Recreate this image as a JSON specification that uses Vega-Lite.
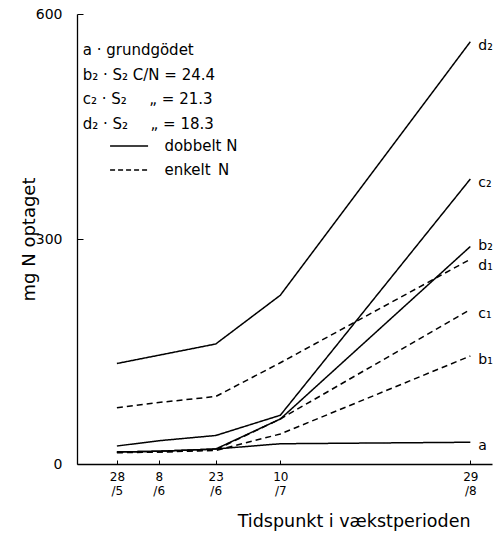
{
  "$schema": "https://vega.github.io/schema/vega-lite/v6.json",
  "width": 415,
  "height": 450,
  "autosize": {"type": "none"},
  "padding": {"left": 77, "top": 14, "right": 2, "bottom": 75},
  "background": "white",
  "config": {
    "view": {"stroke": null},
    "font": "DejaVu Sans",
    "axis": {
      "grid": false,
      "domainColor": "black",
      "domainWidth": 1.3,
      "tickColor": "black",
      "labelColor": "black",
      "titleColor": "black",
      "labelFont": "DejaVu Sans",
      "titleFont": "DejaVu Sans",
      "titleFontWeight": "normal"
    },
    "text": {"font": "DejaVu Sans", "color": "black"}
  },
  "data": {
    "values": [
      {"serie": "a", "navn": "a", "N": "grundgødet", "dag": 0, "mgN": 16},
      {"serie": "a", "navn": "a", "N": "grundgødet", "dag": 11, "mgN": 17},
      {"serie": "a", "navn": "a", "N": "grundgødet", "dag": 26, "mgN": 20},
      {"serie": "a", "navn": "a", "N": "grundgødet", "dag": 43, "mgN": 27},
      {"serie": "a", "navn": "a", "N": "grundgødet", "dag": 93, "mgN": 29},
      {"serie": "b2", "navn": "b₂", "N": "dobbelt N", "dag": 0, "mgN": 16},
      {"serie": "b2", "navn": "b₂", "N": "dobbelt N", "dag": 11, "mgN": 17},
      {"serie": "b2", "navn": "b₂", "N": "dobbelt N", "dag": 26, "mgN": 20},
      {"serie": "b2", "navn": "b₂", "N": "dobbelt N", "dag": 43, "mgN": 60},
      {"serie": "b2", "navn": "b₂", "N": "dobbelt N", "dag": 93, "mgN": 290},
      {"serie": "c2", "navn": "c₂", "N": "dobbelt N", "dag": 0, "mgN": 24},
      {"serie": "c2", "navn": "c₂", "N": "dobbelt N", "dag": 11, "mgN": 31},
      {"serie": "c2", "navn": "c₂", "N": "dobbelt N", "dag": 26, "mgN": 38},
      {"serie": "c2", "navn": "c₂", "N": "dobbelt N", "dag": 43, "mgN": 65},
      {"serie": "c2", "navn": "c₂", "N": "dobbelt N", "dag": 93, "mgN": 380},
      {"serie": "d2", "navn": "d₂", "N": "dobbelt N", "dag": 0, "mgN": 134},
      {"serie": "d2", "navn": "d₂", "N": "dobbelt N", "dag": 11, "mgN": 145},
      {"serie": "d2", "navn": "d₂", "N": "dobbelt N", "dag": 26, "mgN": 160},
      {"serie": "d2", "navn": "d₂", "N": "dobbelt N", "dag": 43, "mgN": 225},
      {"serie": "d2", "navn": "d₂", "N": "dobbelt N", "dag": 93, "mgN": 563},
      {"serie": "b1", "navn": "b₁", "N": "enkelt N", "dag": 0, "mgN": 15},
      {"serie": "b1", "navn": "b₁", "N": "enkelt N", "dag": 11, "mgN": 16},
      {"serie": "b1", "navn": "b₁", "N": "enkelt N", "dag": 26, "mgN": 18},
      {"serie": "b1", "navn": "b₁", "N": "enkelt N", "dag": 43, "mgN": 40},
      {"serie": "b1", "navn": "b₁", "N": "enkelt N", "dag": 93, "mgN": 144},
      {"serie": "c1", "navn": "c₁", "N": "enkelt N", "dag": 0, "mgN": 16},
      {"serie": "c1", "navn": "c₁", "N": "enkelt N", "dag": 11, "mgN": 16},
      {"serie": "c1", "navn": "c₁", "N": "enkelt N", "dag": 26, "mgN": 19},
      {"serie": "c1", "navn": "c₁", "N": "enkelt N", "dag": 43, "mgN": 60},
      {"serie": "c1", "navn": "c₁", "N": "enkelt N", "dag": 93, "mgN": 206},
      {"serie": "d1", "navn": "d₁", "N": "enkelt N", "dag": 0, "mgN": 75},
      {"serie": "d1", "navn": "d₁", "N": "enkelt N", "dag": 11, "mgN": 82},
      {"serie": "d1", "navn": "d₁", "N": "enkelt N", "dag": 26, "mgN": 90},
      {"serie": "d1", "navn": "d₁", "N": "enkelt N", "dag": 43, "mgN": 135},
      {"serie": "d1", "navn": "d₁", "N": "enkelt N", "dag": 93, "mgN": 273}
    ]
  },
  "layer": [
    {
      "mark": {"type": "line", "color": "black", "strokeWidth": 1.5},
      "encoding": {
        "x": {
          "field": "dag",
          "type": "quantitative",
          "scale": {"domain": [-10.5, 98.7], "nice": false, "zero": false},
          "axis": {
            "values": [0, 11, 26, 43, 93],
            "labelExpr": "datum.value == 0 ? ['28', '/5'] : datum.value == 11 ? ['8', '/6'] : datum.value == 26 ? ['23', '/6'] : datum.value == 43 ? ['10', '/7'] : ['29', '/8']",
            "labelLineHeight": 14,
            "labelFontSize": 12,
            "labelPadding": 11,
            "tickSize": -4,
            "title": "Tidspunkt i vækstperioden",
            "titleFontSize": 17.5,
            "titleX": 393,
            "titleAlign": "right",
            "titlePadding": 16
          }
        },
        "y": {
          "field": "mgN",
          "type": "quantitative",
          "scale": {"domain": [0, 600], "nice": false},
          "axis": {
            "values": [0, 300, 600],
            "labelFontSize": 14,
            "labelPadding": 21,
            "tickSize": -6,
            "title": "mg N optaget",
            "titleFontSize": 18,
            "titlePadding": -3
          }
        },
        "detail": {"field": "serie"},
        "strokeDash": {
          "field": "N",
          "type": "nominal",
          "scale": {
            "domain": ["grundgødet", "dobbelt N", "enkelt N"],
            "range": [[1, 0], [1, 0], [6, 4]]
          },
          "legend": null
        }
      }
    },
    {
      "transform": [{"filter": "datum.dag == 93 && datum.serie != 'b2' && datum.serie != 'd1'"}],
      "mark": {"type": "text", "align": "left", "baseline": "middle", "dx": 8, "dy": 4, "fontSize": 14},
      "encoding": {
        "x": {"field": "dag", "type": "quantitative"},
        "y": {"field": "mgN", "type": "quantitative"},
        "text": {"field": "navn"}
      }
    },
    {
      "transform": [{"filter": "datum.dag == 93 && datum.serie == 'b2'"}],
      "mark": {"type": "text", "align": "left", "baseline": "middle", "dx": 8, "dy": -1, "fontSize": 14},
      "encoding": {
        "x": {"field": "dag", "type": "quantitative"},
        "y": {"field": "mgN", "type": "quantitative"},
        "text": {"field": "navn"}
      }
    },
    {
      "transform": [{"filter": "datum.dag == 93 && datum.serie == 'd1'"}],
      "mark": {"type": "text", "align": "left", "baseline": "middle", "dx": 8, "dy": 7, "fontSize": 14},
      "encoding": {
        "x": {"field": "dag", "type": "quantitative"},
        "y": {"field": "mgN", "type": "quantitative"},
        "text": {"field": "navn"}
      }
    },
    {
      "transform": [{"filter": "datum.serie == 'a' && datum.dag == 0"}],
      "mark": {"type": "text", "align": "left", "baseline": "middle", "fontSize": 15, "lineHeight": 24.5},
      "encoding": {
        "x": {"datum": -9},
        "y": {"datum": 552},
        "text": {"value": ["a · grundgödet", "b₂ · S₂  C/N = 24.4", "c₂ · S₂\u2002\u2002\u2002„ = 21.3", "d₂ · S₂\u2002\u2002\u2002„ = 18.3"]}
      }
    },
    {
      "transform": [{"filter": "datum.serie == 'a' && datum.dag == 0"}],
      "mark": {"type": "rule", "color": "black", "strokeWidth": 1.5},
      "encoding": {"x": {"datum": -1.8}, "x2": {"datum": 8.2}, "y": {"datum": 424}}
    },
    {
      "transform": [{"filter": "datum.serie == 'a' && datum.dag == 0"}],
      "mark": {"type": "rule", "color": "black", "strokeWidth": 1.5, "strokeDash": [5, 3]},
      "encoding": {"x": {"datum": -1.8}, "x2": {"datum": 8.2}, "y": {"datum": 392}}
    },
    {
      "transform": [{"filter": "datum.serie == 'a' && datum.dag == 0"}],
      "mark": {"type": "text", "align": "left", "baseline": "middle", "fontSize": 15, "lineHeight": 24},
      "encoding": {
        "x": {"datum": 12.5},
        "y": {"datum": 424},
        "text": {"value": ["dobbelt N", "enkelt\u2002N"]}
      }
    }
  ]
}
